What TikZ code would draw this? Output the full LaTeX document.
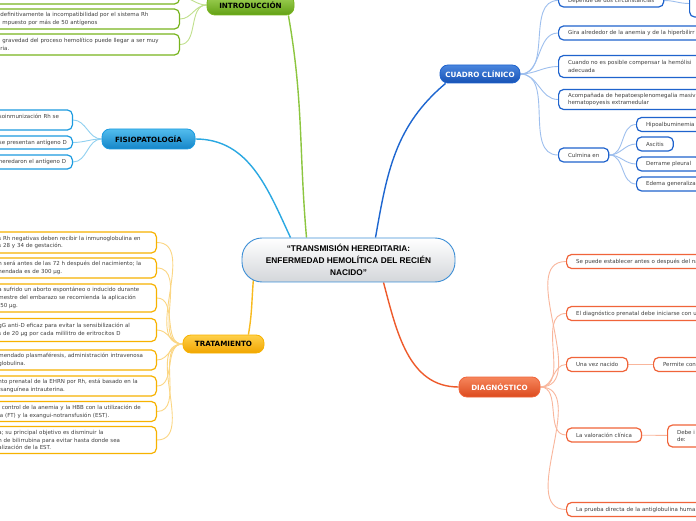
\documentclass[tikz,border=0pt]{standalone}
\usepackage{fontspec}
\setmainfont{DejaVu Sans}
\newfontfamily\headfont{Liberation Sans}
\usetikzlibrary{positioning,backgrounds}
\definecolor{lime600} {HTML}{78B41E}
\definecolor{lime500} {HTML}{8CC63F}
\definecolor{lime400} {HTML}{A2D45A}
\definecolor{lime700} {HTML}{62A014}
\definecolor{lime200} {HTML}{C0E08C}
\definecolor{sky600}  {HTML}{1C9BE0}
\definecolor{sky500}  {HTML}{2AA8E2}
\definecolor{sky400}  {HTML}{52BDEE}
\definecolor{sky700}  {HTML}{1585C8}
\definecolor{sky200}  {HTML}{90D0F0}
\definecolor{blue600} {HTML}{1F63CD}
\definecolor{blue500} {HTML}{1D66D0}
\definecolor{blue400} {HTML}{4A86DE}
\definecolor{blue700} {HTML}{1752B5}
\definecolor{blue200} {HTML}{9EBFEE}
\definecolor{gold600} {HTML}{F7B200}
\definecolor{gold500} {HTML}{F8BA1E}
\definecolor{gold400} {HTML}{FFD04A}
\definecolor{gold700} {HTML}{F0A500}
\definecolor{gold200} {HTML}{FBD683}
\definecolor{coral600}{HTML}{F0643A}
\definecolor{coral500}{HTML}{EE5A2B}
\definecolor{coral400}{HTML}{F6865C}
\definecolor{coral700}{HTML}{DC4A1E}
\definecolor{coral200}{HTML}{F9B69C}
\definecolor{hub500}  {HTML}{3C8ED6}
\definecolor{grey200} {HTML}{D3D6DA}
\definecolor{grey700} {HTML}{404040}
\tikzset{
  hub/.style    ={draw=hub500, line width=0.9pt, top color=white,
                  bottom color=grey200, rounded corners=20pt, align=center,
                  minimum width=213pt, minimum height=44pt, inner sep=0pt,
                  font=\headfont\bfseries\fontsize{8.3}{12.3}\selectfont},
  topic/.style  ={line width=0.8pt, rounded corners=8pt, minimum height=19pt,
                  inner sep=0pt, font=\bfseries\fontsize{7.2}{8}\selectfont},
  topicg/.style ={topic, draw=lime600, top color=lime400, bottom color=lime700},
  topicf/.style ={topic, draw=sky600, top color=sky400, bottom color=sky700},
  topicc/.style ={topic, draw=blue600, top color=blue400, bottom color=blue700,
                  text=white},
  topict/.style ={topic, draw=gold600, top color=gold400, bottom color=gold700},
  topicd/.style ={topic, draw=coral600, top color=coral400,
                  bottom color=coral700, text=white},
  kid/.style    ={fill=white, line width=1.2pt, rounded corners=5pt,
                  align=left, inner xsep=9.5pt, inner ysep=0pt,
                  minimum height=14pt, text=grey700,
                  font=\fontsize{5.5}{7.8}\selectfont},
  kidg/.style   ={kid, draw=lime600},
  kidf/.style   ={kid, draw=sky600},
  kidc/.style   ={kid, draw=blue600},
  kidt/.style   ={kid, draw=gold600},
  kidd/.style   ={kid, draw=coral600},
  trunk/.style  ={line width=1.4pt},
  lnk/.style    ={line width=0.9pt},
  lnkg/.style   ={lnk, draw=lime200},
  lnkf/.style   ={lnk, draw=sky200},
  lnkc/.style   ={lnk, draw=blue200},
  lnkt/.style   ={lnk, draw=gold200},
  lnkd/.style   ={lnk, draw=coral200}
}
\begin{document}
\begin{tikzpicture}[x=1pt,y=1pt]
\useasboundingbox (0,0) rectangle (696,520);

\node[hub] (hub) at (348.5,260)
  {“TRANSMISIÓN HEREDITARIA:\\ENFERMEDAD HEMOLÍTICA DEL RECIÉN\\NACIDO”};

\node[topicg, minimum width=87pt, minimum height=20pt] (intro) at (250.5,515) {INTRODUCCIÓN};
\node[topicf, minimum width=93pt, minimum height=20pt] (fisio) at (148.5,381) {FISIOPATOLOGÍA};
\node[topict, minimum width=81pt, minimum height=18pt] (trat) at (223.5,176) {TRATAMIENTO};
\node[topicc, minimum width=80pt, minimum height=18pt] (cuadro) at (480,446) {CUADRO CLÍNICO};
\node[topicd, minimum width=81pt, minimum height=20pt] (diag) at (499.5,133) {DIAGNÓSTICO};

% introduccion
\node[kidg, anchor=east, text width=169.5pt] (i1) at (180,523) {};
\node[kidg, anchor=east, text width=169.5pt, minimum height=20pt] (i2) at (180,501)
  {definitivamente la incompatibilidad por el sistema Rh\\
   \hspace*{2pt}mpuesto por más de 50 antígenos};
\node[kidg, anchor=east, text width=169.5pt, minimum height=21pt] (i3) at (180,475.5)
  {\hspace*{2pt}gravedad del proceso hemolítico puede llegar a ser muy\\ria.};

% fisiopatologia
\node[kidf, anchor=east, text width=64pt, minimum height=20pt] (f1) at (73,400)
  {\mbox{soinmunización Rh se}\\\mbox{}};
\node[kidf, anchor=east, text width=64pt, minimum height=13pt] (f2) at (73,377.5)
  {\mbox{se presentan antígeno D}};
\node[kidf, anchor=east, text width=64pt] (f3) at (73,358)
  {\mbox{heredaron el antígeno D}};

% tratamiento
\node[kidt, anchor=east, text width=148.5pt, minimum height=21pt] (t1) at (157,277.5)
  {s Rh negativas deben recibir la inmunoglobulina en\\s 28 y 34 de gestación.};
\node[kidt, anchor=east, text width=148.5pt, minimum height=20pt] (t2) at (157,252)
  {n será antes de las 72 h después del nacimiento; la\\nendada es de 300 µg.};
\node[kidt, anchor=east, text width=148.5pt, minimum height=28pt] (t3) at (157,222)
  {a sufrido un aborto espontáneo o inducido durante\\
   mestre del embarazo se recomienda la aplicación\\\hspace*{2pt}50 µg.};
\node[kidt, anchor=east, text width=148.5pt, minimum height=23pt] (t4) at (157,190)
  {gG anti-D eficaz para evitar la sensibilización al\\
   s de 20 µg por cada mililitro de eritrocitos D};
\node[kidt, anchor=east, text width=148.5pt, minimum height=20pt] (t5) at (157,160)
  {mendado plasmaféresis, administración intravenosa\\globulina.};
\node[kidt, anchor=east, text width=148.5pt, minimum height=20pt] (t6) at (157,134)
  {nto prenatal de la EHRN por Rh, está basado en la\\
   \hspace*{2pt}sanguínea intrauterina.};
\node[kidt, anchor=east, text width=148.5pt, minimum height=20pt] (t7) at (157,108.5)
  {l control de la anemia y la HBB con la utilización de\\
   ia (FT) y la exangui-notransfusión (EST).};
\node[kidt, anchor=east, text width=148.5pt, minimum height=27pt] (t8) at (157,80)
  {a; su principal objetivo es disminuir la\\
   n de bilirrubina para evitar hasta donde sea\\alización de la EST.};

% cuadro clinico
\node[kidc, anchor=west, minimum height=13pt] (k1) at (558,519.5) {Depende de dos circunstancias};
\node[kidc, anchor=west, minimum width=30pt, minimum height=27pt] (k1a) at (689,516.5) {};
\node[kidc, anchor=west, text width=200pt] (k2) at (558,487)
  {Gira alrededor de la anemia y de la hiperbilirr};
\node[kidc, anchor=west, text width=200pt, minimum height=22pt] (k3) at (558,453.5)
  {Cuando no es posible compensar la hemólisi\\adecuada};
\node[kidc, anchor=west, text width=200pt, minimum height=20pt] (k4) at (558,420.5)
  {Acompañada de hepatoesplenomegalia masiv\\hematopoyesis extramedular};
\node[kidc, anchor=west] (k5) at (558,365) {Culmina en};
\node[kidc, anchor=west, text width=200pt] (m1) at (636,395.5) {Hipoalbuminemia g};
\node[kidc, anchor=west] (m2) at (636,376) {Ascitis};
\node[kidc, anchor=west] (m3) at (636,356) {Derrame pleural};
\node[kidc, anchor=west, text width=200pt] (m4) at (636,336) {Edema generaliza};

% diagnostico
\node[kidd, anchor=west, text width=200pt] (d1) at (566,258.5)
  {Se puede establecer antes o después del na};
\node[kidd, anchor=west, text width=200pt] (d2) at (566,206.5)
  {El diagnóstico prenatal debe iniciarse con u};
\node[kidd, anchor=west] (d3) at (566,155.5) {Una vez nacido};
\node[kidd, anchor=west, text width=200pt] (d3a) at (653,155.5) {Permite con};
\node[kidd, anchor=west] (d4) at (566,85) {La valoración clínica};
\node[kidd, anchor=west, text width=200pt, minimum height=22pt] (d4a) at (667,84) {Debe i\\de:};
\node[kidd, anchor=west, text width=200pt] (d5) at (566,10.5)
  {La prueba directa de la antiglobulina huma};

\begin{scope}[on background layer]
\fill[white] (0,0) rectangle (696,520);
\draw[trunk, lime500] ([xshift=-42pt]hub.north) to[out=95,in=-80] ([xshift=-6pt]intro.south east);
\draw[trunk, sky500] ([xshift=-58pt]hub.north) to[out=115,in=0] (fisio.east);
\draw[trunk, blue500] ([xshift=27pt]hub.north) to[out=80,in=-140] ([xshift=6pt]cuadro.south west);
\draw[trunk, gold500] ([xshift=-95pt,yshift=4pt]hub.south) to[out=-95,in=80] ([xshift=-16pt]trat.north east);
\draw[trunk, coral500] ([xshift=35pt]hub.south) to[out=-75,in=180] (diag.west);
\foreach \k in {i1,i2,i3} \draw[lnkg] (intro.west) to[out=180,in=0] (\k.east);
\foreach \k in {f1,f2,f3} \draw[lnkf] (fisio.west) to[out=180,in=0] (\k.east);
\foreach \n in {1,...,8} \draw[lnkt] (trat.west) to[out=180,in=0] (t\n.east);
\foreach \k in {k1,k2,k3,k4,k5} \draw[lnkc] (cuadro.east) to[out=0,in=180] (\k.west);
\draw[lnkc] (k1.east) to[out=0,in=180] (k1a.west);
\foreach \k in {m1,m2,m3,m4} \draw[lnkc] (k5.east) to[out=0,in=180] (\k.west);
\foreach \k in {d1,d2,d3,d4,d5} \draw[lnkd] (diag.east) to[out=0,in=180] (\k.west);
\draw[lnkd] (d3) -- (d3a);
\draw[lnkd] (d4) -- (d4a);
\end{scope}
\end{tikzpicture}
\end{document}
